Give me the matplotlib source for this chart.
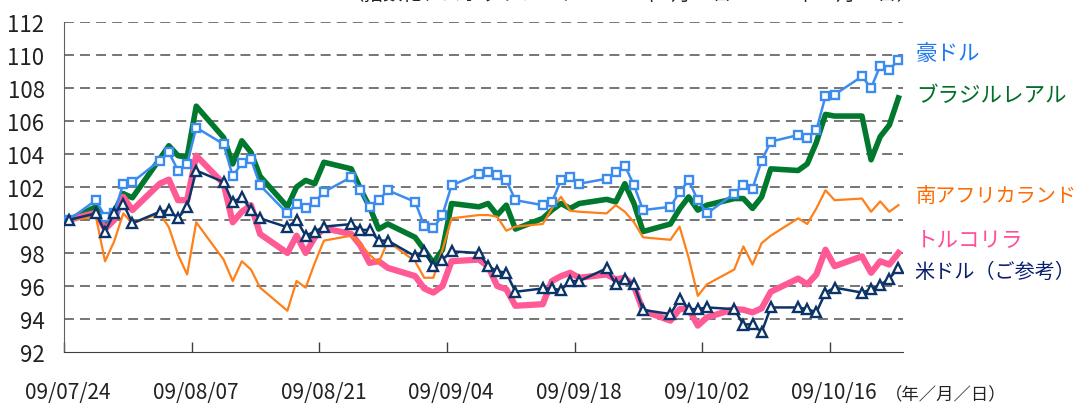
import matplotlib.pyplot as plt
import matplotlib.transforms as mtransforms
import pandas as pd

plt.rcParams['font.family'] = ['Noto Sans CJK JP', 'DejaVu Sans']

# trading days, 2009
dates = ["07-24", "07-27", "07-28", "07-29", "07-30", "07-31",
         "08-03", "08-04", "08-05", "08-06", "08-07",
         "08-10", "08-11", "08-12", "08-13", "08-14",
         "08-17", "08-18", "08-19", "08-20", "08-21",
         "08-24", "08-25", "08-26", "08-27", "08-28",
         "08-31", "09-01", "09-02", "09-03", "09-04",
         "09-07", "09-08", "09-09", "09-10", "09-11",
         "09-14", "09-15", "09-16", "09-17", "09-18",
         "09-21", "09-22", "09-23", "09-24", "09-25",
         "09-28", "09-29", "09-30", "10-01", "10-02",
         "10-05", "10-06", "10-07", "10-08", "10-09",
         "10-12", "10-13", "10-14", "10-15", "10-16",
         "10-19", "10-20", "10-21", "10-22", "10-23"]

aud = [100, 101.2, 100.2, 100.4, 102.2, 102.3,
       103.6, 104.1, 103.0, 103.4, 105.6,
       104.6, 102.65, 103.45, 103.7, 102.1,
       100.4, 101.0, 100.7, 101.1, 101.7,
       102.6, 101.8, 100.8, 101.2, 101.8,
       101.1, 99.65, 99.5, 100.3, 102.1,
       102.8, 102.9, 102.7, 102.4, 101.2,
       100.9, 101.1, 102.4, 102.6, 102.2,
       102.5, 102.9, 103.3, 102.1, 100.6,
       100.8, 101.7, 102.4, 101.2, 100.4,
       101.6, 102.15, 101.9, 103.6, 104.75,
       105.15, 105.0, 105.45, 107.5, 107.6,
       108.7, 108.0, 109.35, 109.1, 109.7]

brl = [100, 100.8, 99.56, 100.5, 101.6, 101.35,
       103.7, 104.5, 103.9, 103.8, 106.9,
       105.0, 103.4, 104.8, 104.1, 102.65,
       100.8, 102.0, 102.4, 102.2, 103.5,
       103.1, 101.9, 100.8, 99.45, 99.76,
       98.95, 98.2, 97.4, 98.2, 101.0,
       100.8, 101.0, 100.3, 100.9, 99.45,
       100.1, 100.6, 101.0, 100.7, 101.0,
       101.25, 101.1, 102.2, 101.0, 99.3,
       99.76, 100.67, 101.4, 100.6, 100.9,
       101.3, 101.3, 100.7, 101.4, 103.1,
       103.0, 103.4, 104.7, 106.4, 106.3,
       106.3, 103.65, 105.05, 105.75, 107.4]

zar = [100, 100.2, 97.5, 98.7, 100.4, 99.8,
       100.4, 99.56, 97.9, 96.7, 99.86,
       97.6, 96.3, 97.5, 97.0, 95.9,
       94.5, 96.3, 95.9, 97.4, 98.75,
       99.05, 98.55, 97.9, 97.4, 98.7,
       97.5, 96.5, 96.5, 98.2, 100.1,
       100.3, 100.3, 100.2, 99.35, 99.6,
       99.76, 100.7, 101.4, 100.56, 100.5,
       100.4, 100.9, 100.5, 99.86, 98.95,
       98.8, 99.6, 97.7, 95.4, 96.1,
       97.0, 98.4, 97.3, 98.6, 99.05,
       100.1, 99.76, 100.7, 101.8, 101.2,
       101.3, 100.5, 101.13, 100.5, 100.9]

try_ = [100, 100.45, 99.45, 100.0, 101.4, 100.6,
        102.2, 102.45, 101.2, 101.2, 103.9,
        102.2, 99.86, 100.5, 100.9, 99.15,
        98.0, 99.05, 98.0, 98.95, 99.5,
        99.15, 98.45, 97.4, 97.5, 97.1,
        96.6, 95.85, 95.6, 96.0, 97.5,
        97.6, 97.2, 96.0, 95.8, 94.8,
        94.9, 96.3, 96.6, 96.8, 96.5,
        96.7, 96.4, 96.5, 96.0, 94.5,
        93.9, 94.6, 94.6, 93.6, 94.1,
        94.6, 94.56, 94.4, 94.65, 95.65,
        96.45, 96.1, 96.7, 98.2, 97.2,
        97.8, 96.8, 97.5, 97.3, 98.0]

usd = [100, 100.4, 99.3, 100.4, 101.0, 99.8,
       100.5, 100.6, 100.1, 100.8, 103.0,
       102.3, 101.07, 101.4, 100.6, 100.1,
       99.56, 100.0, 99.05, 99.3, 99.6,
       99.75, 99.4, 99.4, 98.75, 98.75,
       97.8, 98.1, 97.2, 97.6, 98.1,
       98.0, 97.2, 96.9, 96.8, 95.65,
       95.85, 95.85, 95.75, 96.3, 96.3,
       97.07, 96.1, 96.4, 96.1, 94.55,
       94.3, 95.2, 94.6, 94.6, 94.7,
       94.6, 93.65, 93.7, 93.2, 94.7,
       94.7, 94.6, 94.4, 95.6, 95.9,
       95.6, 95.8, 96.06, 96.45, 97.1]

tick_labels = ["09/07/24", "09/08/07", "09/08/21", "09/09/04",
               "09/09/18", "09/10/02", "09/10/16"]

# days since 7/24, plotted in the middle of each day
dt = pd.to_datetime(["2009-" + d for d in dates])
x = (dt - dt[0]).days + 0.5

fig = plt.figure(figsize=(10.85, 4.06), dpi=100)
ax = fig.add_axes([64 / 1085, 53 / 406, 839 / 1085, 330 / 406])

ax.plot(x, brl, color="#00782d", lw=4, zorder=3)
ax.plot(x, try_, color="#ff5a96", lw=4.5, zorder=3)
ax.plot(x, zar, color="#ff8019", lw=1.6, zorder=4)
ax.plot(x, aud, color="#3c8cf0", lw=1.8, marker="s", ms=5.5, mfc="white",
        mec="#3c8cf0", mew=1.7, zorder=5)
ax.plot(x, usd, color="#0d3468", lw=1.8, marker="^", ms=7, mfc="white",
        mec="#0d3468", mew=1.7, zorder=6)

ax.set_xlim(0, 92)
ax.set_ylim(92, 112)
ax.set_yticks(range(92, 113, 2))
ax.set_xticks(range(0, 92, 14))
ax.set_xticklabels(tick_labels)

for v in range(94, 113, 2):
    ax.axhline(v, color="#505050", lw=1.1, dashes=(6.5, 4), zorder=1)

for s in ["top", "right"]:
    ax.spines[s].set_visible(False)
ax.spines["left"].set_color("#606060")
ax.spines["bottom"].set_color("#404040")
ax.tick_params(axis="y", length=0, pad=14, labelsize=16, colors="#222222")
ax.tick_params(axis="x", direction="in", length=7, width=1, pad=21,
               labelsize=15, colors="#222222", color="#404040")
shift = mtransforms.ScaledTranslation(4 / 100, 0, fig.dpi_scale_trans)
for lab in ax.get_xticklabels():
    lab.set_transform(lab.get_transform() + shift)

# series names at the right
ax.text(93.4, 110.1, "豪ドル", color="#1e78f0", fontsize=15.5, va="center", clip_on=False)
ax.text(93.4, 107.6, "ブラジルレアル", color="#006e28", fontsize=15.5, va="center", clip_on=False)
ax.text(93.4, 101.5, "南アフリカランド", color="#ff6a00", fontsize=14.5, va="center", clip_on=False)
ax.text(93.4, 98.8, "トルコリラ", color="#ff4e9a", fontsize=15.5, va="center", clip_on=False)
ax.text(93.2, 96.9, "米ドル（ご参考）", color="#0a1e6e", fontsize=14.5, va="center", clip_on=False)

fig.text(885 / 1085, 11 / 406, "（年／月／日）", fontsize=12.5, color="#222222", va="center")
fig.text(345 / 1085, 1 - 5 / 406, "（指数化、スポットレート：2009年7月24日～2009年10月23日）",
         fontsize=14, color="#222222", va="bottom")

fig.savefig("out.png", dpi=100)
